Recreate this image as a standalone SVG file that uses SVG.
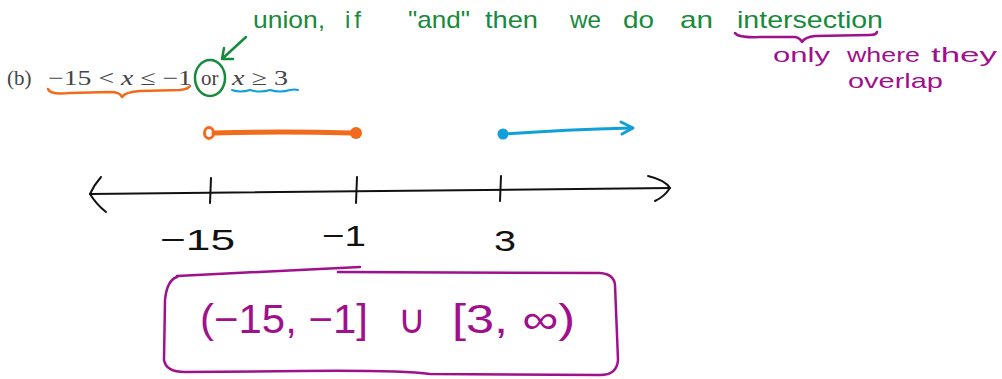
<svg xmlns="http://www.w3.org/2000/svg" width="1002" height="379" viewBox="0 0 1002 379">
<style>
.ink{fill:none;stroke-linecap:round;stroke-linejoin:round}
.blk{stroke:#111;stroke-width:2}
.org{stroke:#f26a1b}
.blu{stroke:#109fd8}
.grn{stroke:#178a3c}
.pur{stroke:#a0108c}
.hw{font-family:"Liberation Sans","DejaVu Sans",sans-serif}
.tg{fill:#178a3c;font-size:24px}
.tp{fill:#a0108c;font-size:21px}
.big{font-size:40px}
.num{fill:#111;font-size:30px}
.tex{font-family:"Liberation Serif","DejaVu Serif",serif;fill:#444;font-size:21px}
</style>
<rect width="1002" height="379" fill="#fff"/>

<!-- problem statement -->
<text class="tex" x="7" y="85">(b)</text>
<text class="tex" x="48" y="85" textLength="144" lengthAdjust="spacingAndGlyphs">−15 &lt; <tspan font-style="italic">x</tspan> ≤ −1</text>
<text class="tex" x="201" y="85">or</text>
<text class="tex" x="232" y="85" textLength="56" lengthAdjust="spacingAndGlyphs"><tspan font-style="italic">x</tspan> ≥ 3</text>

<!-- annotations on statement -->
<path class="ink org" stroke-width="2.5" d="M48 89 Q50 95 70 93 L110 92 Q120 92 122 97 Q125 92 140 91 L180 90 Q188 89 190 86"/>
<path class="ink blu" stroke-width="2" d="M232 90 Q240 93 250 90 Q260 93 270 90 Q280 93 290 90 Q295 89 298 90"/>
<ellipse class="ink grn" stroke-width="2.5" cx="210" cy="78" rx="15" ry="18"/>
<path class="ink grn" stroke-width="2.5" d="M246 37 L222 59 M222 59 L224 48 M222 59 L233 59"/>

<!-- green note -->
<g id="green-note" class="hw tg">
<text x="253" y="28" textLength="72" lengthAdjust="spacingAndGlyphs">union,</text>
<text x="345" y="28" textLength="16" lengthAdjust="spacing">if</text>
<text x="408" y="28" textLength="62" lengthAdjust="spacingAndGlyphs">"and"</text>
<text x="485" y="28" textLength="53" lengthAdjust="spacingAndGlyphs">then</text>
<text x="570" y="28" textLength="31" lengthAdjust="spacingAndGlyphs">we</text>
<text x="623" y="28" textLength="31" lengthAdjust="spacingAndGlyphs">do</text>
<text x="680" y="28" textLength="33" lengthAdjust="spacingAndGlyphs">an</text>
<text x="737" y="28" textLength="146" lengthAdjust="spacingAndGlyphs">intersection</text>
</g>
<g id="purple-note" class="hw tp">
<path class="ink pur" stroke-width="2.5" d="M735 33 Q738 38 760 37 L795 37 Q800 38 802 42 Q805 37 815 36 L870 35 Q876 35 877 32"/>
<text x="773" y="62" textLength="57" lengthAdjust="spacingAndGlyphs">only</text>
<text x="847" y="62" textLength="73" lengthAdjust="spacingAndGlyphs">where</text>
<text x="931" y="62" textLength="66" lengthAdjust="spacingAndGlyphs">they</text>
<text x="848" y="88" textLength="95" lengthAdjust="spacingAndGlyphs">overlap</text>
</g>

<!-- intervals -->
<g id="orange-interval">
<path class="ink org" stroke-width="5" d="M214 133 Q280 131 352 133"/>
<ellipse class="ink org" stroke-width="3" cx="209" cy="133" rx="4.5" ry="5.5"/>
<circle cx="356" cy="133" r="6" fill="#f26a1b"/>
</g>
<g id="blue-ray">
<path class="ink blu" stroke-width="3" d="M503 134 Q560 130 632 128"/>
<path class="ink blu" stroke-width="3" d="M621 122 L633 128 L622 134"/>
<circle cx="503" cy="134" r="5.5" fill="#109fd8"/>
</g>

<!-- number line -->
<g id="number-line">
<path class="ink blk" d="M90 194 L670 188"/>
<path class="ink blk" d="M101 177 Q94 185 90 194 Q96 204 106 212"/>
<path class="ink blk" d="M648 176 Q665 180 670 188 Q664 197 655 201"/>
<path class="ink blk" d="M211 178 L210 203"/>
<path class="ink blk" d="M357 177 L356 203"/>
<path class="ink blk" d="M501 176 L500 201"/>
<text class="hw num" x="160" y="250" textLength="75" lengthAdjust="spacingAndGlyphs">−15</text>
<text class="hw num" x="322" y="246" textLength="44" lengthAdjust="spacingAndGlyphs">−1</text>
<text class="hw num" x="494" y="251" textLength="22" lengthAdjust="spacingAndGlyphs">3</text>
</g>

<!-- answer box -->
<g id="answer" class="hw tp big">
<path class="ink pur" stroke-width="2.5" d="M177 276 L360 267"/>
<path class="ink pur" stroke-width="2.5" d="M338 272 L600 273 Q614 274 615 285 L618 360 Q617 375 600 375 L430 374 Q400 370 300 371 L185 372 Q166 372 164 360 L165 300 Q167 280 177 277"/>
<text x="200" y="333" textLength="168" lengthAdjust="spacingAndGlyphs">(−15, −1]</text>
<text x="398" y="333" textLength="28" lengthAdjust="spacingAndGlyphs">∪</text>
<text x="452" y="333" textLength="123" lengthAdjust="spacingAndGlyphs">[3, ∞)</text>
</g>
</svg>
